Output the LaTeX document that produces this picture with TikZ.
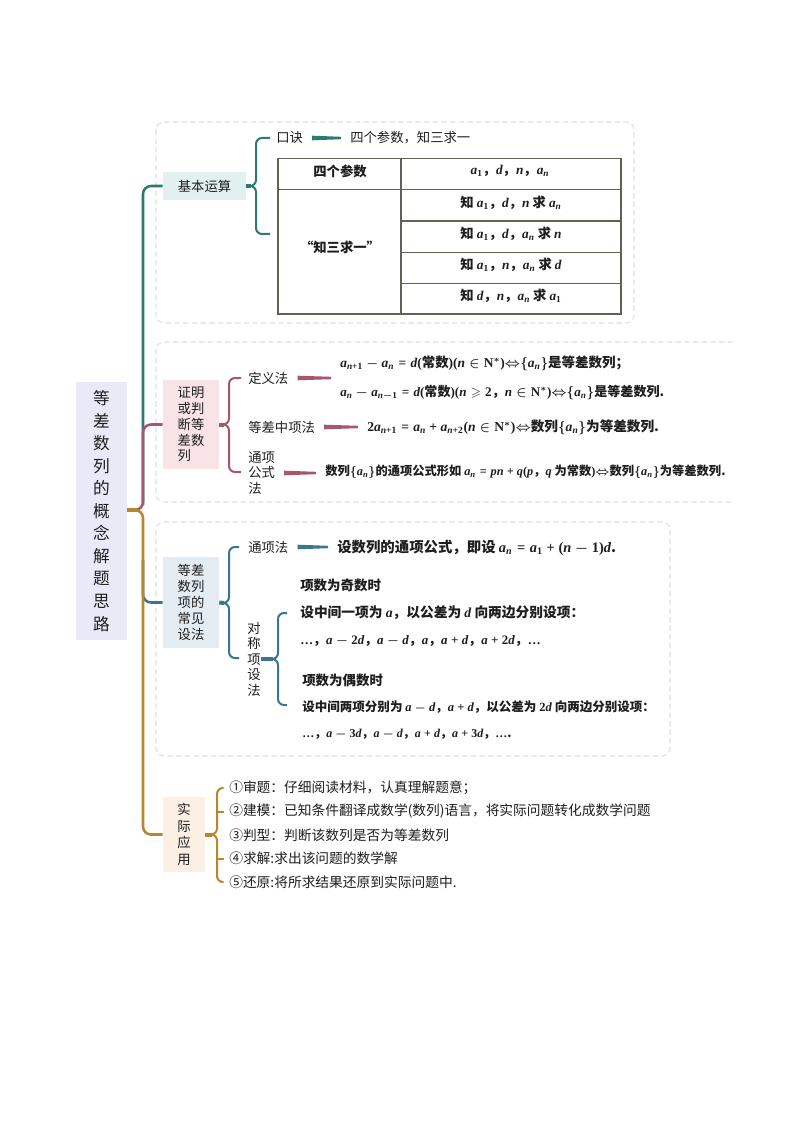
\documentclass[tikz,border=0pt]{standalone}
\usepackage{amssymb}
\usepackage[no-math]{fontspec}
\setmainfont{Noto Sans CJK SC}
\newfontfamily\tms{Liberation Serif}[NFSSFamily=tms]
\DeclareSymbolFont{letters}{TU}{tms}{bx}{it}
\DeclareSymbolFont{operators}{TU}{tms}{bx}{n}
\DeclareMathAlphabet{\mathbf}{TU}{tms}{bx}{n}
\usetikzlibrary{calc}
\definecolor{cteal}{HTML}{2A7A70}
\definecolor{cmar}{HTML}{A9566A}
\definecolor{cblue}{HTML}{3A7690}
\definecolor{cgold}{HTML}{B8862E}
\definecolor{cbox}{HTML}{D8E2E0}
\definecolor{ctab}{HTML}{5F6355}
\definecolor{froot}{HTML}{E8EAF8}
\definecolor{fteal}{HTML}{E2F0EF}
\definecolor{fmar}{HTML}{F8E4E6}
\definecolor{fblue}{HTML}{E3ECF3}
\definecolor{fgold}{HTML}{FCEFE3}
\definecolor{ctext}{HTML}{1E1E1E}
\newcommand\dotsx{{\tms\bfseries …}}
\newcommand\eqv{{\Leftrightarrow}}
\newcommand\fsz[1]{\fontsize{#1}{12}\selectfont\bfseries\boldmath}
\newcommand\taper[3]{%
  \path (#1.east -| #2.west) coordinate (tpR);
  \fill[#3] ($(#1.east)+(9,-2.3)$) -- ($(tpR)+(-9,-1.2)$) -- ($(tpR)+(-9,1.2)$) -- ($(#1.east)+(9,2.3)$) -- cycle;}
\begin{document}
\begin{tikzpicture}[x=0.75pt,y=-0.75pt,
  every node/.style={inner sep=0pt, text=ctext},
  lbl/.style={anchor=west, font=\fontsize{10}{12}\selectfont},
  item/.style={anchor=west, font=\fontsize{10.3}{12}\selectfont},
  catbox/.style={align=center, font=\fontsize{10}{11.85}\selectfont},
  fm/.style={anchor=west, font=\fsz{10}},
  tb/.style={font=\fsz{10}},
  secbox/.style={draw=cbox, line width=0.8pt, dash pattern=on 4pt off 2.5pt, rounded corners=6pt},
  brc/.style={line width=1.5pt, rounded corners=4.5pt},
  trunk/.style={line width=1.9pt, rounded corners=6pt},
  stub/.style={line width=3pt}
]
\useasboundingbox (0,0) rectangle (794,1123);
\fill[white] (0,0) rectangle (794,1123);

% section frames
\draw[secbox] (156,122) rectangle (634,323);
\draw[secbox] (733,342) -- (156,342) -- (156,502) -- (733,502);
\draw[secbox] (156,522) rectangle (670,756);

% root and category nodes
\node[fill=froot, minimum width=38.25pt, minimum height=193.5pt, align=center,
      font=\fontsize{12.5}{16.9}\selectfont] (root) at (101.5,511)
      {等\\差\\数\\列\\的\\概\\念\\解\\题\\思\\路};
\node[catbox, fill=fteal, minimum width=62.25pt, minimum height=21pt] (jb) at (204.5,186) {基本运算};
\node[catbox, align=left, fill=fmar, minimum width=42pt, minimum height=66.75pt] (zm) at (191,424.5) {证明\\或判\\断等\\差数\\列};
\node[catbox, fill=fblue, minimum width=42pt, minimum height=68.25pt] (sf) at (191,602.5) {等差\\数列\\项的\\常见\\设法};
\node[catbox, fill=fgold, minimum width=31.5pt, minimum height=56.25pt, font=\fontsize{10}{12.5}\selectfont] (sy) at (184,834.5) {实\\际\\应\\用};

% trunk
\coordinate (J) at (143,510);
\draw[trunk, cteal] (143,505) |- (jb.west);
\draw[trunk, cblue] (143,560) |- (sf.west);
\draw[trunk, cmar] (135,510) -- (J) |- (zm.west);
\draw[trunk, cgold] (135,510) -- (J) |- (sy.west);
\draw[stub, cgold] (root.east |- J) -- (137,510);

% ---------- section 1
\draw[brc, cteal] (270,138) -- (256,138) -- (256,186) -- (248,186);
\draw[brc, cteal] (248,186) -- (256,186) -- (256,234) -- (270,234);
\draw[stub, cteal] (jb.east) -- (251,186);
\node[lbl] (kj) at (276,138) {口诀};
\node[lbl] (kjt) at (350,138) {四个参数，知三求一};
\taper{kj}{kjt}{cteal}

\draw[ctab, line width=0.9pt] (278,158.5) rectangle (621,314);
\draw[ctab, line width=0.9pt] (401,158.5) -- (401,314);
\draw[ctab, line width=0.9pt] (278,189.5) -- (621,189.5);
\draw[ctab, line width=0.9pt] (401,221) -- (621,221);
\draw[ctab, line width=0.9pt] (401,252.5) -- (621,252.5);
\draw[ctab, line width=0.9pt] (401,283.5) -- (621,283.5);
\node[tb] (th1) at (340,171) {四个参数};
\node[tb] (th2) at (510,171) {$a_1$，$d$，$n$，$a_n$};
\node[tb] (tz) at (340,247) {“知三求一”};
\node[tb] (r1) at (511,203) {知 $a_1$，$d$，$n$ 求 $a_n$};
\node[tb] (r2) at (511,234) {知 $a_1$，$d$，$a_n$ 求 $n$};
\node[tb] (r3) at (511,265) {知 $a_1$，$n$，$a_n$ 求 $d$};
\node[tb] (r4) at (511,296) {知 $d$，$n$，$a_n$ 求 $a_1$};

% ---------- section 2
\draw[brc, cmar] (241,378) -- (229,378) -- (229,424.5) -- (221,424.5);
\draw[brc, cmar] (221,424.5) -- (229,424.5) -- (229,472) -- (241,472);
\draw[stub, cmar] (zm.east) -- (224,424.5);
\node[lbl] (dy) at (248,378) {定义法};
\node[fm, font=\fsz{10.1}] (f1) at (340,363) {$a_{n+1}-a_n=d($常数$)(n\in\mathbf{N}^{*})\eqv\{a_n\}$是等差数列；};
\node[fm, font=\fsz{9.8}] (f2) at (340,393) {$a_n-a_{n-1}=d($常数$)(n\geqslant2$，$n\in\mathbf{N}^{*})\eqv\{a_n\}$是等差数列.};
\taper{dy}{f1}{cmar}
\node[lbl] (dc) at (248,427) {等差中项法};
\node[fm, font=\fsz{10.2}] (f3) at (367,427) {$2a_{n+1}=a_n+a_{n+2}(n\in\mathbf{N}^{*})\eqv$数列$\{a_n\}$为等差数列.};
\taper{dc}{f3}{cmar}
\node[lbl, align=left, font=\fontsize{10}{11.8}\selectfont] (tx) at (248,473) {通项\\公式\\法};
\node[fm, font=\fsz{9.2}] (f4) at (325,472) {数列$\{a_n\}$的通项公式形如 $a_n=pn+q(p$，$q$ 为常数$)\eqv$数列$\{a_n\}$为等差数列.};
\taper{tx}{f4}{cmar}

% ---------- section 3
\draw[brc, cblue] (239,547) -- (229,547) -- (229,603) -- (221,603);
\draw[brc, cblue] (221,603) -- (229,603) -- (229,658) -- (239,658);
\draw[stub, cblue] (sf.east) -- (224,603);
\node[lbl] (tf) at (248,547) {通项法};
\node[fm, font=\fsz{10.8}] (s1) at (337,548) {设数列的通项公式，即设 $a_n=a_1+(n-1)d$.};
\taper{tf}{s1}{cblue}
\node[align=center, font=\fontsize{10}{11.6}\selectfont] (dcx) at (254,659) {对\\称\\项\\设\\法};
\draw[brc, cblue] (287,613) -- (278,613) -- (278,659) -- (271,659);
\draw[brc, cblue] (271,659) -- (278,659) -- (278,705) -- (287,705);
\draw[stub, cblue] (dcx.east) -- (273,659);
\node[fm, font=\fsz{10.1}] (s2) at (300,585) {项数为奇数时};
\node[fm, font=\fsz{10.3}] (s3) at (300,613) {设中间一项为 $a$，以公差为 $d$ 向两边分别设项：};
\node[fm, font=\fsz{9.7}] (s4) at (300,641) {\dotsx，$a-2d$，$a-d$，$a$，$a+d$，$a+2d$，\dotsx};
\node[fm, font=\fsz{10.1}] (s5) at (302,680) {项数为偶数时};
\node[fm, font=\fsz{9.4}] (s6) at (302,707) {设中间两项分别为 $a-d$，$a+d$，以公差为 $2d$ 向两边分别设项：};
\node[fm, font=\fsz{9}] (s7) at (302,734) {\dotsx，$a-3d$，$a-d$，$a+d$，$a+3d$，\dotsx.};

% ---------- section 4
\node[item] (i1) at (229,788) {①审题：仔细阅读材料，认真理解题意；};
\node[item] (i2) at (229,811.5) {②建模：已知条件翻译成数学(数列)语言，将实际问题转化成数学问题};
\node[item] (i3) at (229,835) {③判型：判断该数列是否为等差数列};
\node[item] (i4) at (229,858.5) {④求解:求出该问题的数学解};
\node[item] (i5) at (229,882) {⑤还原:将所求结果还原到实际问题中.};
\draw[brc, cgold] ([xshift=-4]i1.west) -- (217,788) -- (217,834.5) -- (210,834.5);
\draw[brc, cgold] (210,834.5) -- (217,834.5) -- (217,882) -- ([xshift=-4]i5.west);
\draw[line width=1.5pt, cgold] (217,811.5) -- ([xshift=-4]i2.west);
\draw[line width=1.5pt, cgold] (217,858.5) -- ([xshift=-4]i4.west);
\draw[stub, cgold] (sy.east) -- (212,834.5);
\end{tikzpicture}
\end{document}
